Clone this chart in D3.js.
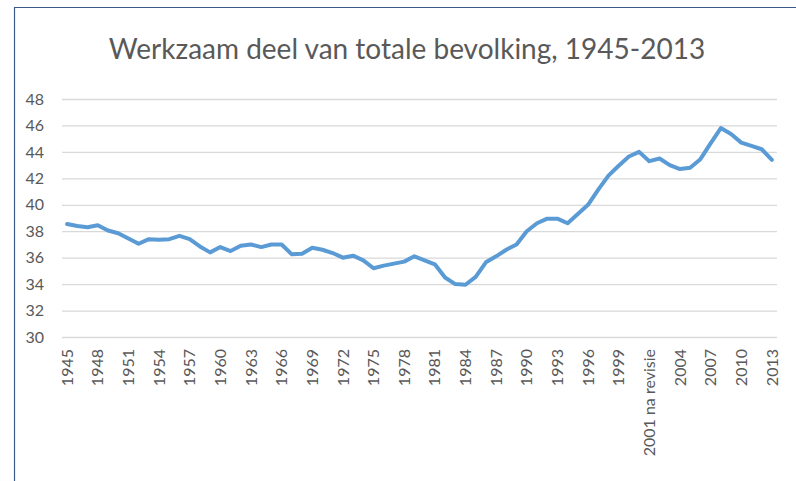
<!DOCTYPE html>
<html>
<head>
<meta charset="utf-8">
<script src="https://cdn.jsdelivr.net/npm/d3@7"></script>
<style>
  body { margin: 0; background: #fff; overflow: hidden; }
  text { font-family: Lato, 'Open Sans', sans-serif; fill: #595959; }
</style>
</head>
<body>
<div id="chart"></div>
<script>
const title = 'Werkzaam deel van totale bevolking, 1945-2013'

// categories: 1945..2001, then the revised 2001, then 2002..2013
const years = d3.range(1945, 2002).map(String)
  .concat(['2001 na revisie'])
  .concat(d3.range(2002, 2014).map(String))

const values = [
  38.55, 38.4, 38.3, 38.45, 38.05, 37.85, 37.45, 37.05, 37.4, 37.35,
  37.4, 37.65, 37.4, 36.85, 36.4, 36.8, 36.5, 36.9, 37.0, 36.8,
  37.0, 37.0, 36.25, 36.3, 36.75, 36.6, 36.35, 36.0, 36.15, 35.8,
  35.2, 35.4, 35.55, 35.7, 36.1, 35.8, 35.5, 34.5, 34.0, 33.95,
  34.55, 35.65, 36.1, 36.6, 37.0, 38.0, 38.6, 38.95, 38.95, 38.6,
  39.3, 40.0, 41.15, 42.2, 42.95, 43.65, 44.0, 43.3, 43.5, 43.0,
  42.7, 42.8, 43.45, 44.65, 45.8, 45.35, 44.7, 44.45, 44.2, 43.4
]

const yTicks = d3.range(30, 49, 2)
const c1 = '#5b9bd5'
const gridColor = '#d9d9d9'

const W = 796
const H = 481

const svg = d3.select('#chart').append('svg')
  .attr('width', W)
  .attr('height', H)

// frame
svg.append('path')
  .attr('d', `M14.5,${H} L14.5,7.5 L${W},7.5`)
  .attr('fill', 'none')
  .attr('stroke', '#3b5a86')
  .attr('stroke-width', 1.2)

svg.append('text')
  .attr('x', 407)
  .attr('y', 59)
  .attr('text-anchor', 'middle')
  .style('font-size', '28px')
  .attr('fill', '#5f5f5f')
  .text(title)

const x = d3.scaleBand()
  .domain(years)
  .range([62, 777])

const y = d3.scaleLinear()
  .domain([30, 48])
  .range([337, 99])

const cx = d => x(d) + x.bandwidth() / 2

// gridlines + y labels
const yAxis = svg.append('g')
  .attr('transform', 'translate(62,0)')
  .call(d3.axisLeft(y).tickValues(yTicks).tickSize(-715).tickPadding(18))
yAxis.select('.domain').remove()
yAxis.selectAll('line').attr('stroke', gridColor).attr('stroke-width', 1.3)
yAxis.selectAll('text')
  .style('font-size', '16px')
  .style('font-family', 'Lato, sans-serif')
  .attr('fill', '#595959')

// x labels, every third category
const xAxis = svg.append('g')
  .attr('transform', 'translate(0,337)')
  .call(d3.axisBottom(x).tickValues(years.filter((d, i) => i % 3 === 0)).tickSize(0))
xAxis.select('.domain').remove()
xAxis.selectAll('text')
  .attr('transform', 'rotate(-90)')
  .attr('text-anchor', 'end')
  .attr('x', -12)
  .attr('y', 0)
  .attr('dy', '0.35em')
  .style('font-size', '16px')
  .style('font-family', 'Lato, sans-serif')
  .attr('fill', '#595959')

svg.append('path')
  .datum(values)
  .attr('fill', 'none')
  .attr('stroke', c1)
  .attr('stroke-width', 4)
  .attr('stroke-linejoin', 'round')
  .attr('stroke-linecap', 'round')
  .attr('d', d3.line()
    .x((d, i) => cx(years[i]))
    .y(d => y(d))
  )
</script>
</body>
</html>
